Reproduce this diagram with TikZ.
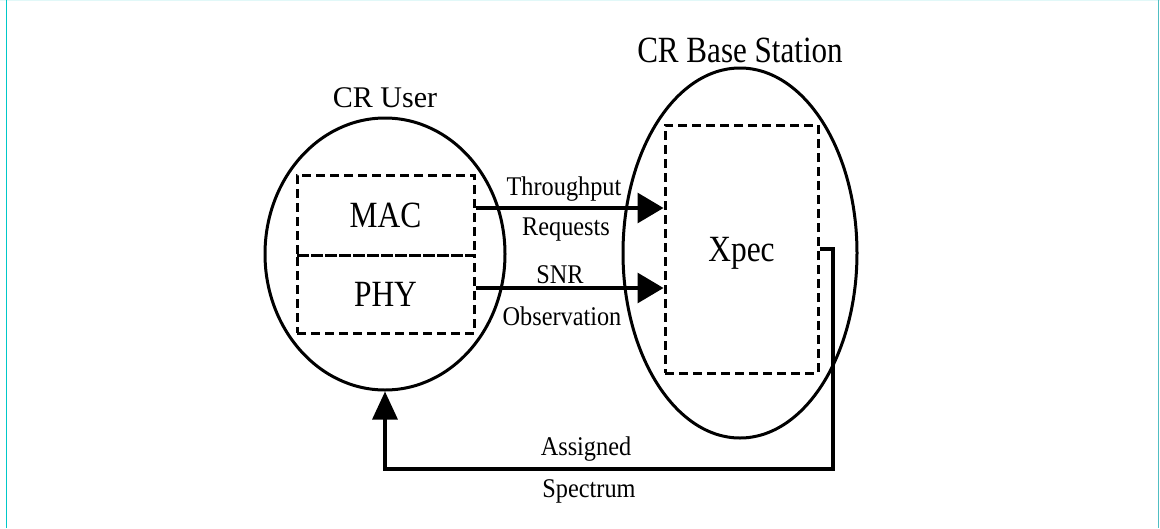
\documentclass[tikz,border=0pt]{standalone}
\usepackage{fontspec}
\setmainfont{Liberation Serif}
\usetikzlibrary{shapes.geometric,arrows.meta,calc}
% condensed serif label: #1 horizontal squeeze, #2 font size (pt), #3 text
\newcommand\sqtext[3]{\scalebox{#1}[1]{\fontsize{#2}{#2}\selectfont #3}}
\definecolor{frameteal}{RGB}{0,200,200}
\definecolor{frameteal2}{RGB}{80,190,195}
\definecolor{framefaint}{RGB}{225,248,248}
\begin{document}
\begin{tikzpicture}[x=1pt,y=-1pt,
  unit/.style={draw, ellipse, line width=3pt, inner sep=0pt},
  layerbox/.style={draw, dashed, dash pattern=on 9pt off 5pt, line width=3pt,
    rectangle, inner sep=0pt, text height=25pt, text depth=0pt},
  flow/.style={line width=3.2pt, -{Triangle[length=26pt,width=30pt]}},
  back/.style={line width=3.2pt, -{Triangle[length=28pt,width=25pt]}},
  lbl/.style={anchor=base, inner sep=0pt}]
\useasboundingbox (0,0) rectangle (1160,528);
% frame
\draw[framefaint, line width=1pt] (0,0.5) -- (1160,0.5);
\draw[frameteal, line width=1.2pt] (6.5,0) -- (6.5,528);
\draw[frameteal2, line width=1.5pt] (1158.5,0) -- (1158.5,528);

% the two units
\node[unit, minimum width=240pt, minimum height=272pt] (user) at (385,254) {};
\node[unit, minimum width=234pt, minimum height=370pt] (bs) at (740,253) {};

% layers and controller
\node[layerbox, minimum width=177pt, minimum height=80pt] (mac) at (385.5,215)
  {\sqtext{0.85}{37}{MAC}};
\node[layerbox, minimum width=177pt, minimum height=78pt] (phy) at (385.5,294)
  {\sqtext{0.85}{37}{PHY}};
\node[layerbox, minimum width=153pt, minimum height=248pt] (xpec) at (741.5,249)
  {\sqtext{0.85}{37}{Xpec}};

% titles
\node[lbl] (tuser) at (385,107) {\sqtext{1}{30}{CR User}};
\node[lbl] (tbs) at (740,62) {\sqtext{0.84}{37}{CR Base Station}};

% requests and observations
\coordinate (a1) at ($(mac.east)+(0,-7)$);
\coordinate (a2) at ($(phy.east)+(0,-6)$);
\draw[flow] (a1) -- (a1 -| xpec.west);
\draw[flow] (a2) -- (a2 -| xpec.west);
\node[lbl] (l1) at (564,195) {\sqtext{0.9}{27}{Throughput}};
\node[lbl] (l2) at (566,235) {\sqtext{0.9}{27}{Requests}};
\node[lbl] (l3) at (560,283) {\sqtext{0.9}{27}{SNR}};
\node[lbl] (l4) at (562,325) {\sqtext{0.9}{27}{Observation}};

% spectrum assignment back to the user
\coordinate (turn) at (833,469);
\draw[back] (xpec.east) -| (turn) -| (user.south);
\node[lbl] (l5) at (586,455) {\sqtext{0.9}{27}{Assigned}};
\node[lbl] (l6) at (589,497) {\sqtext{0.9}{27}{Spectrum}};
\end{tikzpicture}
\end{document}
